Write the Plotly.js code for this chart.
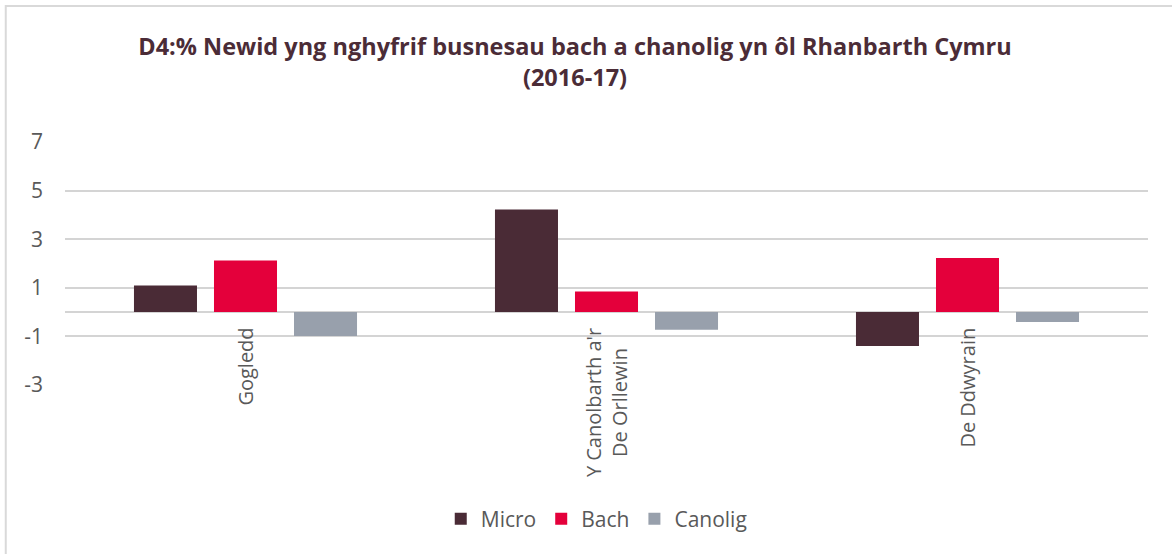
<!DOCTYPE html>
<html>
<head>
<meta charset="utf-8">
<script src="https://cdn.plot.ly/plotly-3.0.1.min.js"></script>
<style>
  html, body { margin: 0; padding: 0; background: #ffffff; }
  #chart { width: 1172px; height: 554px; }
</style>
</head>
<body>
<div id="chart"></div>
<script>
// Data
const categories = ["Gogledd", "Y Canolbarth a'r<br>De Orllewin", "De Ddwyrain"];
const microValues = [1.09, 4.22, -1.39];
const bachValues = [2.12, 0.85, 2.23];
const canoligValues = [-0.98, -0.73, -0.41];
const seriesNames = ["Micro", "Bach", "Canolig"];
const yTickValues = [7, 5, 3, 1, -1, -3];
const titleText = "D4:% Newid yng nghyfrif busnesau bach a chanolig yn ôl Rhanbarth Cymru<br>(2016-17)";

const colors = ["#4a2b36", "#e4003b", "#98a0ac"];
const fontFamily = "'Open Sans', 'DejaVu Sans', sans-serif";
const textColor = "#595959";

const allValues = [microValues, bachValues, canoligValues];
const traces = allValues.map((vals, i) => ({
  type: "bar",
  name: seriesNames[i],
  x: categories,
  y: vals,
  marker: { color: colors[i] },
  hoverinfo: "x+y+name"
}));

const annotations = categories.map(c => ({
  x: c,
  y: 0,
  xref: "x",
  yref: "y",
  text: c,
  textangle: -90,
  showarrow: false,
  xanchor: "center",
  yanchor: "top",
  yshift: -14,
  align: "center",
  font: { family: fontFamily, size: 20, color: textColor }
}));

const layout = {
  width: 1172,
  height: 554,
  margin: { l: 65, r: 24, t: 142, b: 169, pad: 0 },
  paper_bgcolor: "#ffffff",
  plot_bgcolor: "#ffffff",
  title: {
    text: titleText,
    x: 0.4906,
    xanchor: "center",
    y: 0.90,
    yanchor: "top",
    font: { family: fontFamily, size: 23.5, color: "#4b2c37", weight: "bold" }
  },
  barmode: "group",
  bargap: 0.335,
  bargroupgap: 0.2125,
  xaxis: {
    type: "category",
    range: [-0.5, 2.5],
    showticklabels: false,
    showgrid: false,
    showline: false,
    ticks: "",
    fixedrange: true
  },
  yaxis: {
    range: [-3, 7],
    tickvals: yTickValues,
    ticktext: yTickValues.map(String),
    showgrid: true,
    gridcolor: "#d4d4d4",
    gridwidth: 1.5,
    zeroline: true,
    zerolinecolor: "#d4d4d4",
    zerolinewidth: 1.5,
    showline: false,
    ticks: "",
    ticklabelstandoff: 21,
    tickfont: { family: fontFamily, size: 21, color: textColor },
    fixedrange: true
  },
  legend: {
    orientation: "h",
    x: 0.491,
    xanchor: "center",
    y: -0.552,
    yanchor: "middle",
    font: { family: fontFamily, size: 21, color: textColor },
    traceorder: "normal"
  },
  annotations: annotations,
  shapes: [
    { type: "rect", xref: "paper", yref: "paper", x0: -0.0547, x1: 1.05, y0: 1.5598, y1: -0.75, line: { color: "#d9d9d9", width: 2 }, fillcolor: "rgba(0,0,0,0)", layer: "below" }
  ],
  showlegend: true
};

Plotly.newPlot("chart", traces, layout, { displayModeBar: false, responsive: false });
</script>
</body>
</html>
